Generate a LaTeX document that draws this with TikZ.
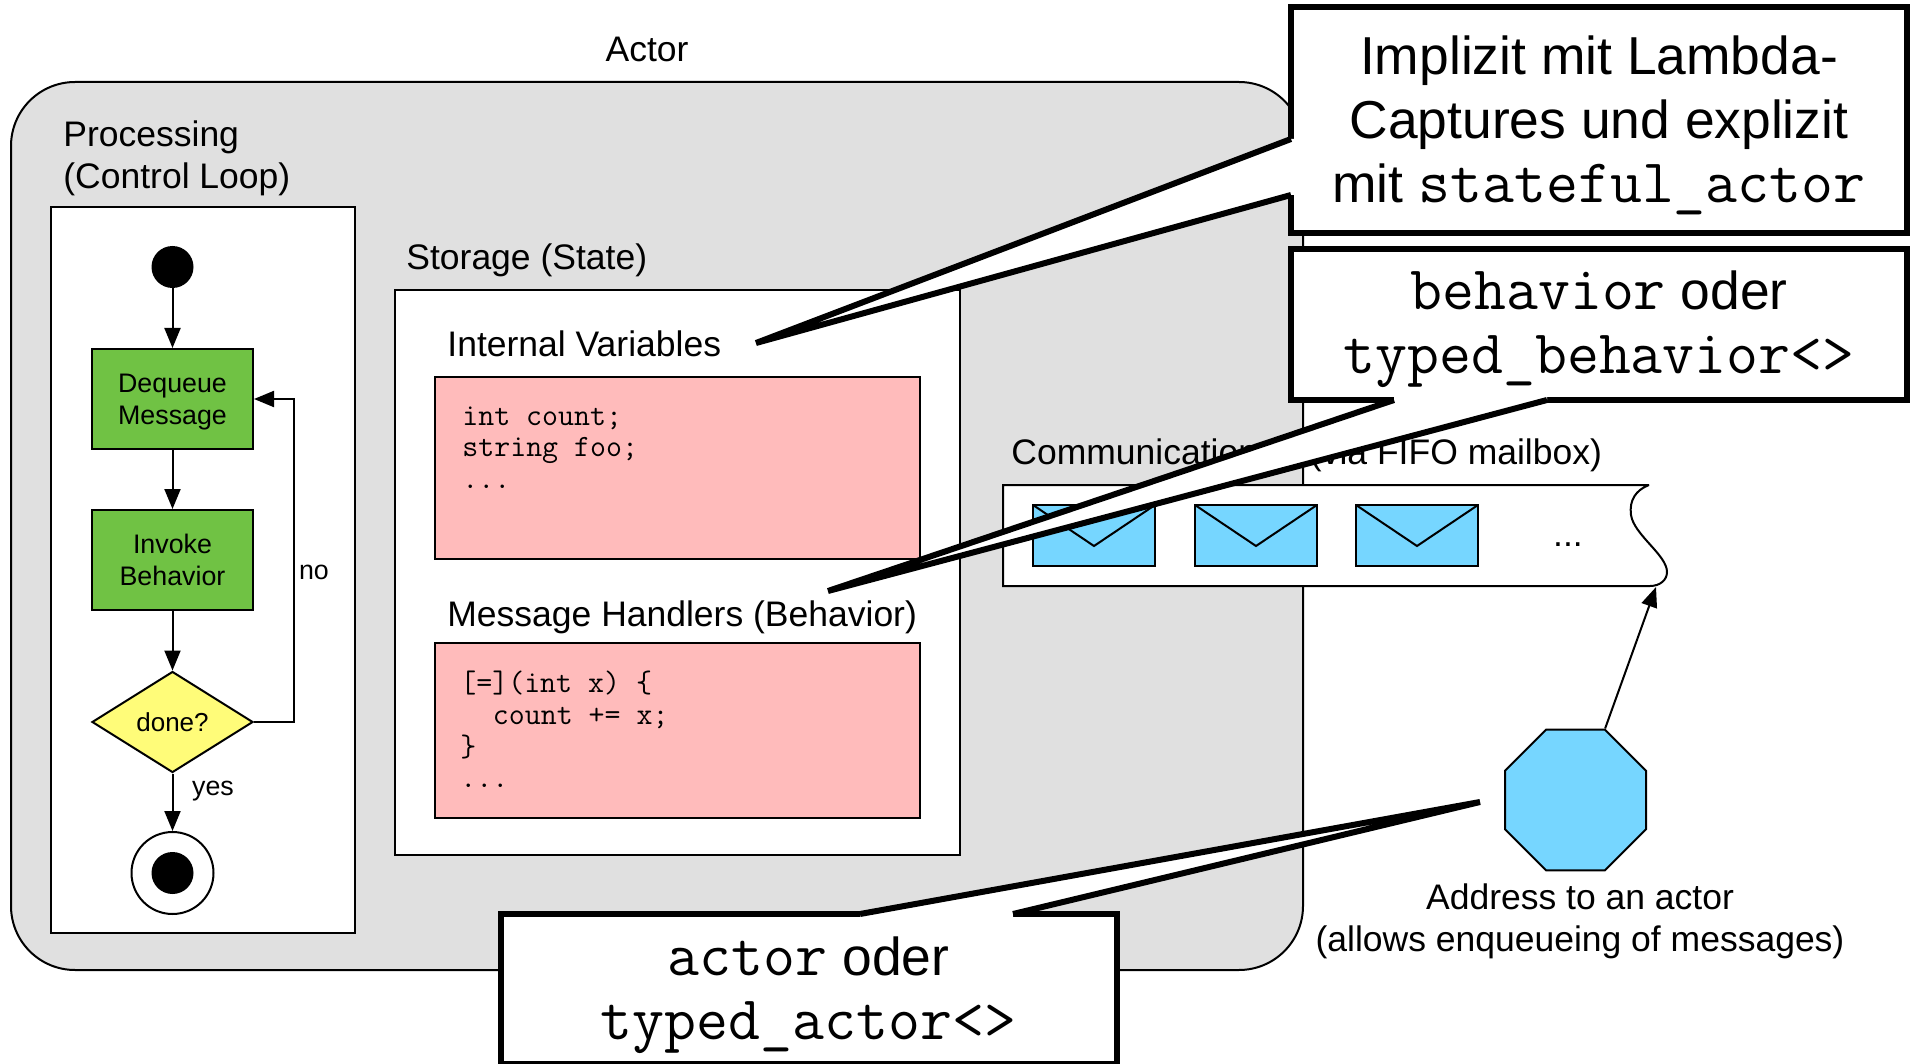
\documentclass[tikz,border=0pt]{standalone}
\usepackage{fontspec}
\setmainfont{Liberation Sans}
\usetikzlibrary{arrows.meta,shapes.geometric}
\definecolor{actorgray}{HTML}{E0E0E0}
\definecolor{stepgreen}{HTML}{70C244}
\definecolor{askyellow}{HTML}{FFFC79}
\definecolor{statepink}{HTML}{FFBBBB}
\definecolor{mailblue}{HTML}{76D6FF}
\tikzset{
  label/.style={inner sep=0pt, anchor=base west, font=\fontsize{17.75}{21}\selectfont},
  small/.style={inner sep=0pt, font=\fontsize{13.4}{16}\selectfont, align=center},
  panel/.style={draw, fill=white, line width=1pt, inner sep=0pt},
  stepbox/.style={draw, fill=stepgreen, line width=1pt, inner sep=0pt, minimum width=80.5pt, minimum height=50pt, text depth=0pt, font=\fontsize{13.4}{16}\selectfont, align=center},
  codebox/.style={draw, fill=statepink, line width=1pt, inner sep=0pt, minimum width=242.5pt},
  code/.style={inner sep=0pt, anchor=north west, align=left, font=\ttfamily\fontsize{15.5}{15.8}\selectfont},
  envelope/.style={draw, fill=mailblue, line width=1pt},
  note/.style={draw, fill=white, line width=3pt, inner sep=0pt, minimum width=308pt},
  notetext/.style={inner sep=0pt, align=center, font=\fontsize{26.7}{32}\selectfont},
  tail/.style={line width=3pt},
}
\newcommand{\cc}[1]{{\ttfamily\fontsize{31}{32}\selectfont #1}}
\begin{document}
\begin{tikzpicture}[x=0.5pt, y=-0.5pt, >={Triangle[length=10pt,width=8pt]}]
\useasboundingbox (0,0) rectangle (1918,1064);
% actor and its panels
\draw[fill=actorgray, line width=1pt, rounded corners=32pt] (11,82) rectangle (1303,970);
\node[label, anchor=base] (actor) at (647,62) {Actor};
\node[label, align=left, anchor=north west] (proc) at (63,120) {Processing\\(Control Loop)};
\node[panel, minimum width=152pt, minimum height=363pt] (procbox) at (203,570) {};
\node[label] (store) at (406,270) {Storage (State)};
\node[panel, minimum width=282.5pt, minimum height=282.5pt] (storebox) at (677.5,572.5) {};
\node[label] (vars) at (447,357) {Internal Variables};
\node[codebox, minimum height=91pt] (varsbox) at (677.5,468) {};
\node[code] (varscode) at (462,406) {int count;\\string foo;\\...};
\node[label] (hand) at (447,626) {Message Handlers (Behavior)};
\node[codebox, minimum height=87.5pt] (handbox) at (677.5,730.5) {};
\node[code] (handcode) at (460,671) {[=](int x) \{\\\hspace*{1.05em}count += x;\\\}\\...};
% control loop
\node[circle, fill=black, minimum size=21pt, inner sep=0pt] (start) at (172.5,267) {};
\node[stepbox] (dequeue) at (172.5,399) {Dequeue\\Message};
\node[stepbox] (invoke) at (172.5,560) {Invoke\\Behavior};
\node[diamond, draw, fill=askyellow, line width=1pt, inner sep=0pt, minimum width=80.5pt, minimum height=50.5pt, font=\fontsize{13}{16}\selectfont] (done) at (172.5,722) {done?};
\node[circle, draw, fill=white, line width=1pt, minimum size=41pt, inner sep=0pt] (stop) at (172.5,873) {};
\node[circle, fill=black, minimum size=21pt, inner sep=0pt] (stopdot) at (172.5,873) {};
\node[small] (no) at (314,572.5) {no};
\node[small] (yes) at (213,791) {yes};
\draw[->, line width=1pt] (start) -- (dequeue);
\draw[->, line width=1pt] (dequeue) -- (invoke);
\draw[->, line width=1pt] (invoke) -- (done);
\draw[->, line width=1pt] (done) -- (stop);
\draw[->, line width=1pt] (done.east) -- (294,722) -- (294,399) -- (dequeue.east);
% mailbox
\node[label] (comm) at (1011,465) {Communication\hspace{26pt}(via FIFO mailbox)};
\draw[fill=white, line width=1pt] (1649,485) -- (1003,485) -- (1003,586) -- (1650,586)
  .. controls (1660,586) and (1667,580) .. (1667,572)
  .. controls (1667,555) and (1634,535) .. (1631,515)
  .. controls (1629,500) and (1636,490) .. (1649,485);
\coordinate (mailbox) at (1656,587);
\foreach \x in {1033,1195,1356} {
  \draw[envelope] (\x,505) rectangle (\x+122,566);
  \draw[line width=1pt] (\x,505) -- (\x+61,546) -- (\x+122,505);
}
\node[label, anchor=base] (more) at (1568,546) {...};
% address
\node[regular polygon, regular polygon sides=8, draw, fill=mailblue, line width=1pt, inner sep=0pt, minimum size=76.3pt] (addr) at (1575.5,800) {};
\node[label, anchor=north, align=center] (addrtext) at (1580,883) {Address to an actor\\(allows enqueueing of messages)};
\draw[->, line width=1pt] (addr.corner 1) -- (mailbox);
% notes
\node[note, minimum height=113pt] (lambda) at (1599,120) {};
\node[notetext] (lambdatext) at (1599,125) {Implizit mit Lambda-\\Captures und explizit\\mit \cc{stateful\_actor}};
\node[note, minimum height=75.5pt] (behav) at (1599,324.5) {};
\node[notetext] (behavtext) at (1599,329) {\cc{behavior} oder\\\cc{typed\_behavior<>}};
\node[note, minimum height=75pt] (actref) at (808.5,989) {};
\node[notetext] (actreftext) at (808.5,995) {\cc{actor} oder\\\cc{typed\_actor<>}};
\coordinate (lambdatip) at (756,343);
\coordinate (behavtip) at (828,591);
\coordinate (actreftip) at (1480,802);
\fill[white] (1291,139) -- (lambdatip) -- (1291,195) -- (1300,195) -- (1300,139) -- cycle;
\draw[tail] (1291,139) -- (lambdatip) -- (1291,195);
\fill[white] (1394,400) -- (behavtip) -- (1547,400) -- (1547,392) -- (1394,392) -- cycle;
\draw[tail] (1394,400) -- (behavtip) -- (1547,400);
\fill[white] (860,914) -- (actreftip) -- (1013,914) -- (1013,922) -- (860,922) -- cycle;
\draw[tail] (860,914) -- (actreftip) -- (1013,914);
\end{tikzpicture}
\end{document}
